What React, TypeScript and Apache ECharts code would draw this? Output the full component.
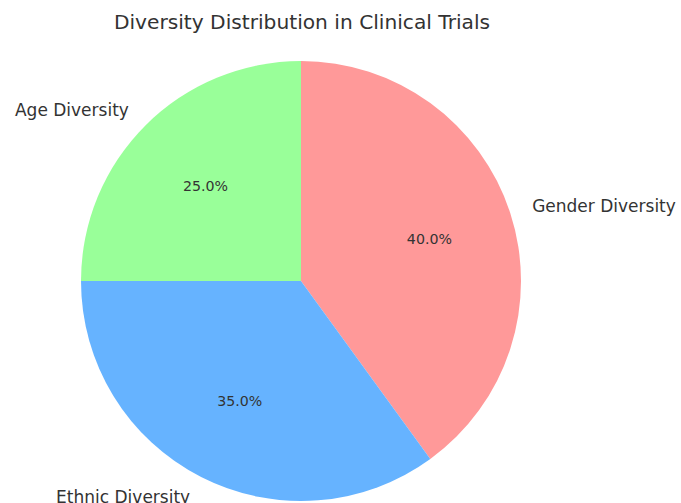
import React, { useEffect, useRef } from "react";
import * as echarts from "echarts";

const categories = ["Gender Diversity", "Ethnic Diversity", "Age Diversity"];
const values = [40, 35, 25];
const colors = ["#ff9999", "#66b3ff", "#99ff99"];
const titleText = "Diversity Distribution in Clinical Trials";

export default function App() {
  const ref = useRef<HTMLDivElement>(null);
  useEffect(() => {
    if (!ref.current) return;
    const chart = echarts.init(ref.current, null, { renderer: "svg" });
    const total = values.reduce((a, b) => a + b, 0);
    const data = categories.map((name, i) => ({
      name,
      value: values[i],
      itemStyle: { color: colors[i] },
    }));
    chart.setOption({
      animation: false,
      backgroundColor: "#ffffff",
      title: {
        text: titleText,
        left: 302,
        textAlign: "center",
        top: 12,
        padding: 0,
        textStyle: {
          fontFamily: "DejaVu Sans",
          fontSize: 20.2,
          fontWeight: "normal",
          color: "#333333",
        },
      },
      series: [
        {
          type: "pie",
          center: [301, 281],
          radius: [0, 220],
          startAngle: 90,
          clockwise: true,
          avoidLabelOverlap: false,
          silent: true,
          data,
          itemStyle: { borderWidth: 0 },
          label: {
            show: true,
            position: "outside",
            distanceToLabelLine: 1,
            formatter: "{b}",
            fontFamily: "DejaVu Sans",
            fontSize: 17,
            color: "#333333",
          },
          labelLine: { show: false, length: 22, length2: 0 },
        },
        {
          type: "pie",
          center: [301, 281],
          radius: [0, 264],
          startAngle: 90,
          clockwise: true,
          avoidLabelOverlap: false,
          silent: true,
          data: categories.map((name, i) => ({
            name,
            value: values[i],
            itemStyle: { color: "transparent", borderWidth: 0 },
          })),
          label: {
            show: true,
            position: "inside",
            formatter: (p: any) => ((p.value / total) * 100).toFixed(1) + "%",
            fontFamily: "DejaVu Sans",
            fontSize: 14.2,
            color: "#333333",
          },
          labelLine: { show: false },
        },
      ],
    });
    return () => chart.dispose();
  }, []);
  return (
    <div
      ref={ref}
      style={{ position: "fixed", left: 0, top: 0, width: 681, height: 503 }}
    />
  );
}
